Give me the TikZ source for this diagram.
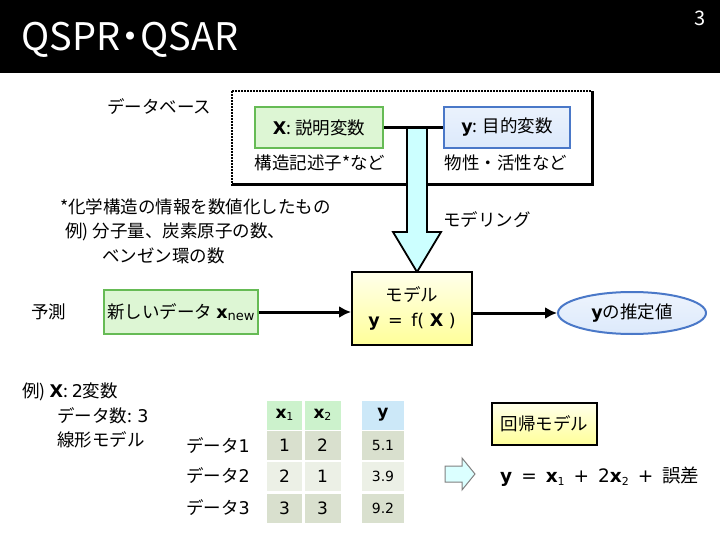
\documentclass[tikz,border=0pt]{standalone}
\usepackage{fontspec}
\setmainfont{Noto Sans CJK JP}
\newfontfamily\lat{DejaVu Sans}
\usetikzlibrary{arrows.meta,shapes.geometric}
\definecolor{boxgreen}{HTML}{66BB55}
\definecolor{fillgreen}{HTML}{DDF6D4}
\definecolor{boxblue}{HTML}{4A78C8}
\definecolor{fillblue}{HTML}{DCE9FB}
\definecolor{cyanfill}{HTML}{CCFFFF}
\definecolor{hdgreen}{HTML}{CCF2CC}
\definecolor{hdblue}{HTML}{CCE8F8}
\definecolor{celldark}{HTML}{D9E0CE}
\definecolor{celllight}{HTML}{ECF0E6}
\newcommand{\bx}[1]{{\lat\bfseries #1}}
\newcommand{\sbs}[1]{{\lat\fontsize{11}{13}\selectfont\raisebox{-0.4ex}{#1}}}
\begin{document}
\begin{tikzpicture}[x=1pt,y=-1pt,
  every node/.style={inner sep=0pt, font=\fontsize{17.5}{21}\selectfont},
  lbl/.style={anchor=west},
  gbox/.style={draw=boxgreen, line width=2pt, fill=fillgreen, inner sep=0pt},
  bbox/.style={draw=boxblue, line width=2pt, top color=fillblue!60, bottom color=fillblue, inner sep=0pt},
  ybox/.style={draw=black, line width=2pt, top color=yellow!8, bottom color=yellow!40, inner sep=0pt},
  conn/.style={draw=black, line width=3pt, -{Latex[length=12pt,width=12pt]}},
  cell/.style={minimum width=35pt, minimum height=29pt, inner sep=0pt, font=\lat\fontsize{17}{20}\selectfont},
  ycell/.style={cell, minimum width=42pt, font=\lat\fontsize{14}{17}\selectfont}]
\useasboundingbox (0,0) rectangle (720,540);
% header
\fill[black] (0,0) rectangle (720,73);
\node[lbl, text=white, font=\fontsize{38}{44}\selectfont] (title) at (21,40) {QSPR\makebox[20pt]{・}QSAR};
\node[text=white, font=\fontsize{20}{22}\selectfont] (pg) at (700,18) {3};
% database
\node[lbl] (db) at (107,107) {データベース};
\draw[densely dotted, line width=2pt] (232,91) rectangle (592,185);
\draw[line width=3pt] (232,185) -- (592,185) -- (592,91);
\node[gbox, minimum width=128pt, minimum height=41pt] (xb) at (319,127.5) {\bx{X}: 説明変数};
\node[bbox, minimum width=126pt, minimum height=41pt] (yb) at (507,127.5) {\bx{y}: 目的変数};
\node (xd) at (320,163) {構造記述子*など};
\node (yd) at (506,163) {物性・活性など};
% big arrow
\draw[line width=1.8pt, fill=cyanfill] (407,128) -- (427,128) -- (427,232) -- (441,232) -- (417,272) -- (393,232) -- (407,232) -- cycle;
\draw[line width=3pt] (xb.east) -- (yb.west);
% notes
\node[lbl] (n1) at (60,207) {*化学構造の情報を数値化したもの};
\node[lbl] (n2) at (65,232) {例) 分子量、炭素原子の数、};
\node[lbl] (n3) at (102,256) {ベンゼン環の数};
\node[lbl] (mdl) at (443,220) {モデリング};
% prediction row
\node[lbl] (pred) at (31,312) {予測};
\node[gbox, minimum width=154pt, minimum height=44pt] (nd) at (181,312) {新しいデータ \bx{x}{\lat\fontsize{13}{15}\selectfont\raisebox{-0.35ex}{new}}};
\node[ybox, minimum width=120pt, minimum height=73pt, align=center] (model) at (412,308.5) {モデル\\[4pt]\bx{y}\,{\lat\ =\ \,f( }\bx{X}{\lat\ )}};
\node[ellipse, draw=boxblue, line width=2pt, top color=fillblue!50, bottom color=fillblue, minimum width=148pt, minimum height=42pt] (est) at (632,313) {\bx{y}の推定値};
\path[conn] (nd.east) -- (nd.east -| model.west);
\path[conn] (model.east |- est.west) -- (est.west);
% example
\node[lbl] (e1) at (22,392) {例) \bx{X}: {\lat 2}変数};
\node[lbl] (e2) at (57,416) {データ数: {\lat 3}};
\node[lbl] (e3) at (57,440) {線形モデル};
% table
\node[cell, fill=hdgreen] (h1) at (284.5,415) {\bx{x}\sbs{1}};
\node[cell, fill=hdgreen, minimum width=36pt] (h2) at (322.5,415) {\bx{x}\sbs{2}};
\node[ycell, fill=hdblue, font=\lat\fontsize{17}{20}\selectfont] (h3) at (383,415) {\bx{y}};
\node[cell, fill=celldark] (a1) at (284.5,445.5) {1};
\node[cell, fill=celldark, minimum width=36pt] (a2) at (322.5,445.5) {2};
\node[ycell, fill=celldark] (a3) at (383,445.5) {5.1};
\node[cell, fill=celllight] (b1) at (284.5,476) {2};
\node[cell, fill=celllight, minimum width=36pt] (b2) at (322.5,476) {1};
\node[ycell, fill=celllight] (b3) at (383,476) {3.9};
\node[cell, fill=celldark] (c1) at (284.5,508) {3};
\node[cell, fill=celldark, minimum width=36pt] (c2) at (322.5,508) {3};
\node[ycell, fill=celldark] (c3) at (383,508) {9.2};
\node[lbl] (r1) at (186,445.5) {データ{\lat 1}};
\node[lbl] (r2) at (186,476) {データ{\lat 2}};
\node[lbl] (r3) at (186,508) {データ{\lat 3}};
% regression
\node[ybox, minimum width=105pt, minimum height=42pt] (reg) at (544.5,424) {回帰モデル};
\draw[gray, line width=1pt, fill=cyanfill!70] (445,466) -- (462,466) -- (462,458) -- (475,474) -- (462,490) -- (462,482) -- (445,482) -- cycle;
\node[lbl, font=\fontsize{18.5}{22}\selectfont] (eq) at (500,477) {\bx{y}\hspace{9pt}{\lat =}\hspace{9pt}\bx{x}\sbs{1}\hspace{9pt}{\lat +}\hspace{9pt}{\lat 2}\bx{x}\sbs{2}\hspace{9pt}{\lat +}\hspace{9pt}誤差};
\end{tikzpicture}
\end{document}
